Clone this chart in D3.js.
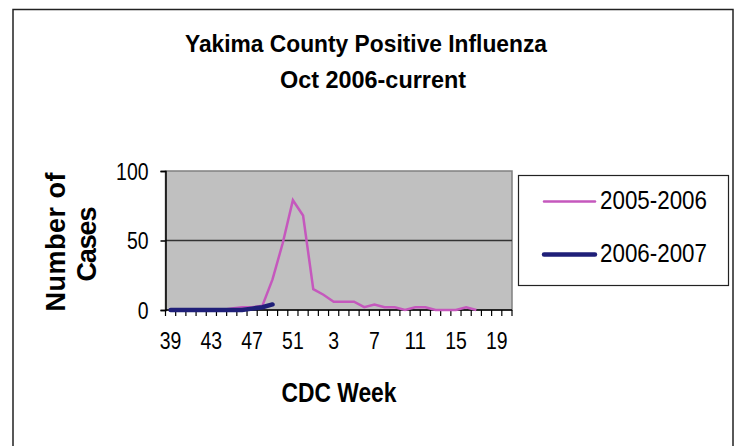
<!DOCTYPE html>
<html>
<head>
<meta charset="utf-8">
<script src="https://cdn.jsdelivr.net/npm/d3@7"></script>
<style>
  body { margin: 0; background: #fff; }
  text { font-family: "Liberation Sans Narrow", "Arial Narrow", "Liberation Sans", Arial, sans-serif; fill: #000; }
</style>
</head>
<body>
<div id="chart"></div>
<script>
// CDC weeks on the category axis (Oct through May)
var weeks = [39,40,41,42,43,44,45,46,47,48,49,50,51,52,1,2,3,4,5,6,7,8,9,10,11,12,13,14,15,16,17,18,19,20];
var tickLabels = [39, 43, 47, 51, 3, 7, 11, 15, 19];
var yTicks = [0, 50, 100];
var seriesNames = ["2005-2006", "2006-2007"];
var cases0506 = [0,0,0,0,0,0,1,2,2,3,22,48,79,68,15,11,6,6,6,2,4,2,2,0,2,2,0,0,0,2,0];
var cases0607 = [0,0,0,0,0,0,0,0,1,2,4];

var W = 736, H = 446;
var plot = {left: 165.5, top: 171, right: 512, bottom: 310};
var digitW = 10.8; // narrow digits, as in the original

var svg = d3.select("#chart").append("svg")
  .attr("width", W)
  .attr("height", H);

// outer chart frame
svg.append("rect")
  .attr("x", 13).attr("y", 9.5)
  .attr("width", 720).attr("height", 460)
  .attr("fill", "#fff")
  .attr("stroke", "#222")
  .attr("stroke-width", 1.5);

// title
svg.append("text")
  .attr("x", 366).attr("y", 52)
  .attr("text-anchor", "middle")
  .attr("font-size", "24px").attr("font-weight", "bold")
  .attr("textLength", 362).attr("lengthAdjust", "spacingAndGlyphs")
  .text("Yakima County Positive Influenza");
svg.append("text")
  .attr("x", 373).attr("y", 88)
  .attr("text-anchor", "middle")
  .attr("font-size", "24px").attr("font-weight", "bold")
  .attr("textLength", 186).attr("lengthAdjust", "spacingAndGlyphs")
  .text("Oct 2006-current");

var x = d3.scaleBand()
  .domain(d3.range(weeks.length))
  .range([plot.left, plot.right])
  .paddingInner(0).paddingOuter(0);

var y = d3.scaleLinear()
  .domain([0, 100])
  .range([plot.bottom, plot.top]);

// plot area
svg.append("rect")
  .attr("x", plot.left).attr("y", plot.top)
  .attr("width", plot.right - plot.left).attr("height", plot.bottom - plot.top)
  .attr("fill", "#c0c0c0")
  .attr("stroke", "#808080")
  .attr("stroke-width", 1.5);

// gridlines
svg.append("g")
  .selectAll("line")
  .data(yTicks.filter(function(d){ return d > 0 && d < 100; }))
  .enter().append("line")
  .attr("x1", plot.left).attr("x2", plot.right)
  .attr("y1", function(d){ return y(d); })
  .attr("y2", function(d){ return y(d); })
  .attr("stroke", "#333")
  .attr("stroke-width", 1.5);

// y axis
var yAxis = svg.append("g")
  .attr("transform", "translate(" + plot.left + ",0)")
  .call(d3.axisLeft(y).tickValues(yTicks).tickSize(5).tickPadding(12));
yAxis.select(".domain").attr("stroke", "#000").attr("stroke-width", 1.5);
yAxis.selectAll(".tick line").attr("stroke", "#000").attr("stroke-width", 1.5);
yAxis.selectAll(".tick text")
  .attr("font-size", "23px")
  .attr("font-family", null)
  .attr("dy", "0.36em")
  .attr("textLength", function(d){ return String(d).length * digitW; })
  .attr("lengthAdjust", "spacingAndGlyphs");

// x axis: ticks at category boundaries, labels every 4th week
var xAxis = svg.append("g")
  .attr("transform", "translate(0," + plot.bottom + ")");
xAxis.append("line")
  .attr("x1", plot.left).attr("x2", plot.right)
  .attr("stroke", "#000").attr("stroke-width", 1.5);
xAxis.selectAll("line.tk")
  .data(d3.range(weeks.length + 1))
  .enter().append("line")
  .attr("class", "tk")
  .attr("x1", function(i){ return plot.left + i * x.bandwidth(); })
  .attr("x2", function(i){ return plot.left + i * x.bandwidth(); })
  .attr("y1", 0).attr("y2", 6)
  .attr("stroke", "#000").attr("stroke-width", 1.2);
xAxis.selectAll("text")
  .data(weeks.map(function(w, i){ return {w: w, i: i}; })
    .filter(function(d){ return d.i % 4 === 0 && tickLabels.indexOf(d.w) >= 0; }))
  .enter().append("text")
  .attr("x", function(d){ return x(d.i) + x.bandwidth() / 2; })
  .attr("y", 39)
  .attr("text-anchor", "middle")
  .attr("font-size", "23px")
  .attr("textLength", function(d){ return String(d.w).length * digitW; })
  .attr("lengthAdjust", "spacingAndGlyphs")
  .text(function(d){ return d.w; });

// axis titles
svg.append("text")
  .attr("x", 339).attr("y", 402)
  .attr("text-anchor", "middle")
  .attr("font-size", "27px").attr("font-weight", "bold")
  .attr("textLength", 115).attr("lengthAdjust", "spacingAndGlyphs")
  .text("CDC Week");
svg.append("text")
  .attr("transform", "translate(65,242) rotate(-90)")
  .attr("text-anchor", "middle")
  .attr("font-size", "27px").attr("font-weight", "bold")
  .attr("textLength", 139).attr("lengthAdjust", "spacing")
  .text("Number of");
svg.append("text")
  .attr("transform", "translate(96,244) rotate(-90)")
  .attr("text-anchor", "middle")
  .attr("font-size", "27px").attr("font-weight", "bold")
  .attr("textLength", 75).attr("lengthAdjust", "spacing")
  .text("Cases");

// series lines
var line = d3.line()
  .x(function(d, i){ return x(i) + x.bandwidth() / 2; })
  .y(function(d){ return y(d); });

svg.append("path")
  .datum(cases0506)
  .attr("d", line)
  .attr("fill", "none")
  .attr("stroke", "#c558bd")
  .attr("stroke-width", 2.5)
  .attr("stroke-linejoin", "miter");

svg.append("path")
  .datum(cases0607)
  .attr("d", line)
  .attr("fill", "none")
  .attr("stroke", "#1f1f78")
  .attr("stroke-width", 4.5)
  .attr("stroke-linecap", "round")
  .attr("stroke-linejoin", "round");

// legend
var legend = svg.append("g").attr("class", "legend");
legend.append("rect")
  .attr("x", 518.5).attr("y", 175.5)
  .attr("width", 210).attr("height", 110)
  .attr("fill", "#fff")
  .attr("stroke", "#222")
  .attr("stroke-width", 1.2);
var legColors = ["#c558bd", "#1f1f78"];
var legWidths = [2.5, 4.5];
legend.selectAll("line.key")
  .data(seriesNames)
  .enter().append("line")
  .attr("class", "key")
  .attr("x1", 544).attr("x2", 595)
  .attr("y1", function(d, i){ return 201.5 + i * 53; })
  .attr("y2", function(d, i){ return 201.5 + i * 53; })
  .attr("stroke", function(d, i){ return legColors[i]; })
  .attr("stroke-width", function(d, i){ return legWidths[i]; })
  .attr("stroke-linecap", "round");
legend.selectAll("text")
  .data(seriesNames)
  .enter().append("text")
  .attr("x", 600)
  .attr("y", function(d, i){ return 209 + i * 53; })
  .attr("font-size", "26px")
  .attr("textLength", 107).attr("lengthAdjust", "spacingAndGlyphs")
  .text(function(d){ return d; });
</script>
</body>
</html>
